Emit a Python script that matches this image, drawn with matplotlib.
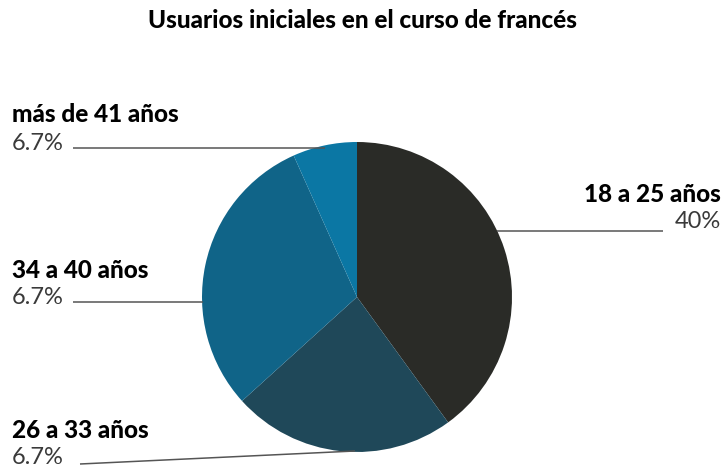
import matplotlib.pyplot as plt

# slice data (clockwise from 12 o'clock)
groups = ["18 a 25 años", "26 a 33 años", "34 a 40 años", "más de 41 años"]
shares = [40, 23.3, 30, 6.7]
shown_pct = ["40%", "6.7%", "6.7%", "6.7%"]
colors = ["#2a2b27", "#1f4859", "#106488", "#0b77a4"]

plt.rcParams['font.family'] = ['Lato', 'DejaVu Sans']

fig = plt.figure(figsize=(7.24, 4.68), dpi=100)
ax = fig.add_axes([0, 0, 1, 1])

ax.pie(shares, colors=colors, startangle=90, counterclock=False,
       center=(357, 171), radius=155, frame=True,
       wedgeprops=dict(linewidth=0))
ax.set_xlim(0, 724)
ax.set_ylim(0, 468)
ax.set_aspect('auto')
ax.axis('off')

fig.text(0.5, 1 - 21 / 468, "Usuarios iniciales en el curso de francés",
         ha='center', va='center', fontsize=17.5, fontweight='black', color='#000000')

# label positions (pixel coords from top), leader line ends
labels_pos = {
    "18 a 25 años": dict(x=721, ylab=194, ypct=221, ha='right',
                         line=((497, 663), (231, 231))),
    "26 a 33 años": dict(x=12, ylab=431, ypct=458, ha='left',
                         line=((80, 355), (464, 451))),
    "34 a 40 años": dict(x=12, ylab=270, ypct=297, ha='left',
                         line=((73, 203), (302, 302))),
    "más de 41 años": dict(x=12, ylab=114, ypct=143, ha='left',
                           line=((73, 325), (148, 148))),
}

for g, p in zip(groups, shown_pct):
    d = labels_pos[g]
    ax.text(d['x'], 468 - d['ylab'], g, ha=d['ha'], va='center',
            fontsize=17.5, fontweight='black', color='#000000')
    ax.text(d['x'], 468 - d['ypct'], p, ha=d['ha'], va='center',
            fontsize=17, fontweight='normal', color='#3a3a3a')
    xs, ys = d['line']
    ax.plot(xs, [468 - y for y in ys], color='#555555', linewidth=1.1,
            solid_capstyle='butt', zorder=5)

fig.savefig("out.png", dpi=100)
